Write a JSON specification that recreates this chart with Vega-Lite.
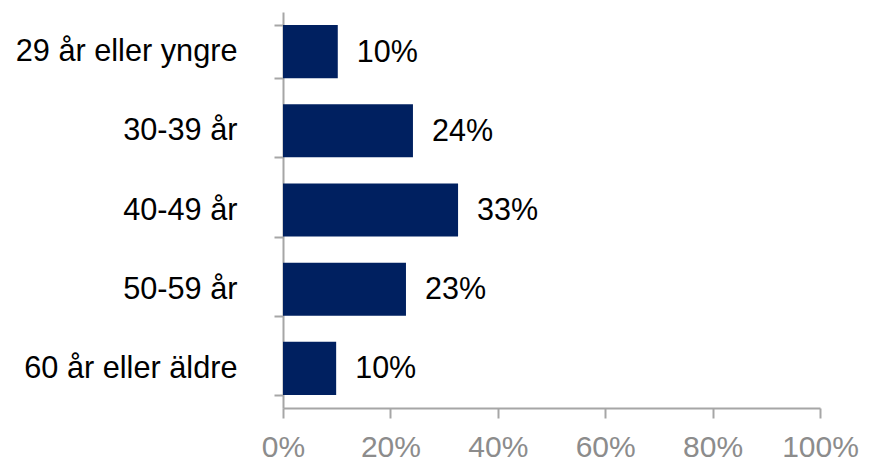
{
  "$schema": "https://vega.github.io/schema/vega-lite/v6.json",
  "width": 537,
  "height": 396,
  "autosize": "none",
  "padding": {"left": 283, "top": 12, "right": 55, "bottom": 53},
  "background": "white",
  "config": {"view": {"stroke": null}, "font": "Liberation Sans"},
  "data": {
    "values": [
      {"group": "29 år eller yngre", "share": 0.102},
      {"group": "30-39 år", "share": 0.242},
      {"group": "40-49 år", "share": 0.326},
      {"group": "50-59 år", "share": 0.229},
      {"group": "60 år eller äldre", "share": 0.099}
    ]
  },
  "encoding": {
    "y": {
      "field": "group",
      "type": "nominal",
      "sort": null,
      "scale": {"paddingInner": 0.33, "paddingOuter": 0.165},
      "axis": {
        "title": null,
        "labelFont": "Liberation Sans",
        "labelFontSize": 30.7,
        "labelColor": "#000000",
        "labelPadding": 37,
        "labelLimit": 400,
        "tickSize": 9,
        "tickColor": "#A6A6A6",
        "tickWidth": 2,
        "domainColor": "#A6A6A6",
        "domainWidth": 2,
        "tickBand": "extent",
        "grid": false
      }
    },
    "x": {
      "field": "share",
      "type": "quantitative",
      "scale": {"domain": [0, 1]},
      "axis": {
        "title": null,
        "format": ".0%",
        "values": [0, 0.2, 0.4, 0.6, 0.8, 1],
        "labelFlush": false,
        "labelOverlap": false,
        "labelFont": "Liberation Sans",
        "labelFontSize": 30,
        "labelColor": "#8C8C8C",
        "labelPadding": 14,
        "tickSize": 10,
        "tickColor": "#A6A6A6",
        "tickWidth": 2,
        "domainColor": "#A6A6A6",
        "domainWidth": 2,
        "grid": false
      }
    }
  },
  "layer": [
    {"mark": {"type": "bar", "color": "#002060"}},
    {
      "mark": {"type": "text", "align": "left", "baseline": "middle", "dx": 19, "dy": 1, "fontSize": 30.5, "font": "Liberation Sans", "color": "#000000"},
      "encoding": {"text": {"field": "share", "type": "quantitative", "format": ".0%"}}
    }
  ]
}
